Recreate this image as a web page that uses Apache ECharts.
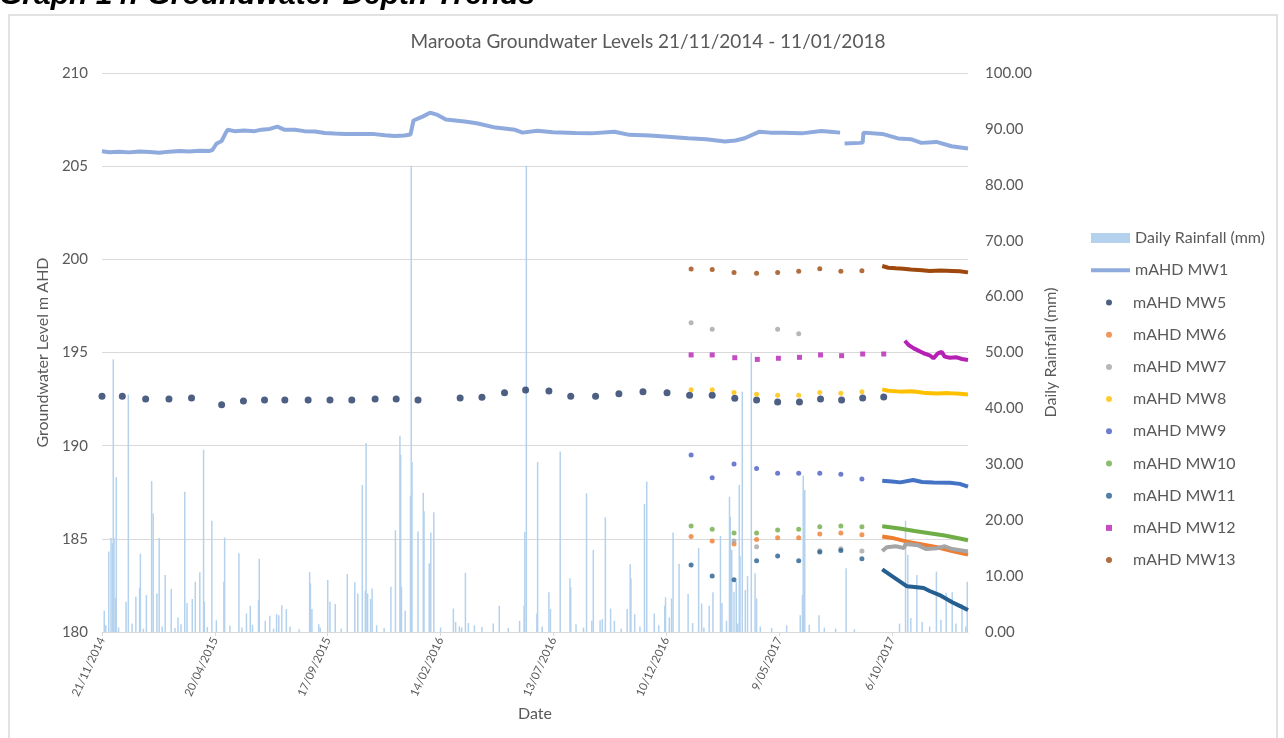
<!DOCTYPE html>
<html>
<head>
<meta charset="utf-8">
<script src="https://cdn.jsdelivr.net/npm/echarts@6.0.0/dist/echarts.min.js"></script>
<style>
html,body{margin:0;padding:0;background:#fff;}
#chart{width:1284px;height:738px;}
</style>
</head>
<body>
<div id="chart"></div>
<script>
// ---------- DATA (x = days since 21/11/2014) ----------
const xTickLabels = ['21/11/2014','20/04/2015','17/09/2015','14/02/2016','13/07/2016','10/12/2016','9/05/2017','6/10/2017'];

const rainfall = [[3,3.8],[5,1.2],[9,14.4],[12,16.8],[14,15.9],[15,48.8],[16,16.8],[18,6.1],[19,27.7],[22,0.8],[32,5.4],[35,42.5],[40,1.5],[45,6.3],[50,7.9],[51,14.0],[55,0.6],[59,6.6],[66,27.0],[68,21.2],[73,6.9],[76,16.8],[80,1.0],[84,10.2],[92,7.7],[97,0.7],[101,2.6],[105,1.4],[110,25.1],[113,5.2],[120,5.9],[124,9.0],[130,10.7],[135,32.6],[136,5.4],[140,0.9],[146,19.9],[152,2.1],[162,9.0],[163,16.9],[170,1.1],[182,14.1],[186,0.8],[192,3.3],[197,4.7],[200,1.3],[208,5.7],[209,13.1],[217,2.0],[223,2.9],[228,0.6],[232,3.2],[235,3.0],[239,4.8],[245,4.1],[250,1.0],[262,0.5],[276,10.7],[277,8.7],[279,4.1],[288,1.4],[290,0.8],[300,9.3],[303,5.4],[310,5.0],[318,0.6],[326,10.4],[336,8.9],[340,6.9],[346,26.3],[350,7.4],[351,33.8],[353,6.9],[357,5.9],[359,7.8],[365,1.2],[375,0.7],[384,8.1],[390,18.2],[396,35.1],[397,31.7],[398,8.1],[403,3.8],[410,24.4],[411,83.4],[412,30.4],[420,18.0],[427,24.9],[428,21.6],[435,12.3],[437,17.8],[441,21.4],[450,0.8],[467,4.2],[470,1.8],[475,1.0],[478,0.8],[483,10.6],[487,1.6],[495,1.2],[505,0.9],[520,1.5],[528,4.7],[540,0.7],[555,2.0],[561,4.7],[562,17.9],[564,83.4],[578,3.3],[579,30.4],[585,1.0],[594,7.1],[596,4.1],[609,32.3],[622,9.6],[623,8.0],[630,1.4],[640,0.8],[644,24.8],[651,2.0],[653,14.7],[662,2.1],[665,2.3],[669,20.5],[676,4.2],[681,2.0],[690,0.6],[698,4.1],[702,12.1],[703,9.6],[708,3.2],[715,1.0],[721,22.9],[724,26.9],[734,3.3],[740,1.2],[748,4.7],[749,6.2],[754,2.6],[757,6.0],[759,17.8],[767,12.2],[779,6.8],[785,1.6],[793,15.0],[797,5.1],[800,0.8],[807,4.7],[812,7.1],[822,17.2],[824,5.2],[830,2.0],[834,24.2],[835,20.6],[837,14.7],[840,7.2],[843,9.0],[845,1.5],[847,26.3],[848,13.6],[851,43.0],[855,7.5],[858,10.0],[863,50.0],[868,10.5],[870,6.0],[875,1.0],[890,0.7],[910,1.2],[928,3.0],[931,6.6],[932,28.0],[934,25.4],[940,1.3],[953,3.0],[960,0.8],[975,0.6],[989,11.4],[1000,0.5],[1060,1.5],[1068,19.9],[1071,13.8],[1075,2.5],[1083,10.2],[1090,1.8],[1100,1.0],[1109,10.8],[1115,2.2],[1122,7.0],[1130,7.1],[1135,1.5],[1143,5.0],[1148,1.0],[1150,9.0]];

const mw1 = [[0,205.80],[10,205.75],[23,205.78],[36,205.74],[50,205.79],[63,205.76],[76,205.72],[90,205.78],[103,205.82],[116,205.79],[130,205.83],[143,205.82],[147,205.88],[152,206.20],[159,206.35],[164,206.75],[167,206.95],[176,206.88],[189,206.92],[203,206.88],[212,206.96],[223,207.00],[233,207.12],[243,206.95],[256,206.95],[269,206.88],[283,206.86],[296,206.78],[309,206.75],[323,206.72],[343,206.73],[362,206.72],[376,206.66],[389,206.62],[402,206.65],[410,206.70],[414,207.45],[426,207.66],[436,207.87],[446,207.75],[457,207.50],[482,207.40],[498,207.30],[523,207.07],[549,206.95],[559,206.80],[579,206.90],[599,206.82],[629,206.78],[650,206.76],[681,206.85],[701,206.68],[728,206.65],[752,206.58],[779,206.50],[803,206.44],[828,206.32],[842,206.38],[854,206.50],[874,206.85],[888,206.80],[905,206.80],[930,206.76],[956,206.89],[968,206.85],[981,206.80],[984,'-'],[987,206.22],[1007,206.25],[1011,206.27],[1012,206.80],[1037,206.73],[1058,206.49],[1075,206.45],[1089,206.25],[1109,206.30],[1129,206.07],[1151,205.95]];

const mw5Days = [0,27,58,89,119,159,188,216,243,274,303,332,363,391,420,476,505,535,563,594,623,656,687,719,751,781,811,841,870,898,927,955,983,1011,1039];
const mw5Vals = [192.65,192.65,192.50,192.50,192.56,192.20,192.40,192.45,192.45,192.45,192.45,192.45,192.50,192.50,192.45,192.56,192.60,192.84,192.99,192.93,192.65,192.65,192.79,192.90,192.84,192.70,192.70,192.54,192.45,192.34,192.34,192.50,192.45,192.56,192.61];

const surveyDays = [783,811,840,870,898,926,954,982,1010];
const mw6Dots  = [185.12,184.88,184.72,184.97,185.06,185.06,185.26,185.31,185.22];
const mw7Dots  = [196.60,196.25,184.88,184.58,196.25,196.00,184.36,184.47,184.35];
const mw8Dots  = [193.00,193.00,192.86,192.76,192.70,192.70,192.86,192.81,192.90];
const mw9Dots  = [189.50,188.28,189.02,188.77,188.52,188.52,188.52,188.46,188.21];
const mw10Dots = [185.69,185.51,185.31,185.31,185.47,185.51,185.65,185.69,185.65];
const mw11Dots = [183.60,183.00,182.81,183.83,184.08,183.83,184.29,184.38,183.93];
const mw12Days = [783,811,841,871,899,927,955,983,1011,1039];
const mw12Dots = [194.87,194.87,194.72,194.63,194.69,194.74,194.87,194.83,194.92,194.92];
const mw13Dots = [199.48,199.45,199.30,199.25,199.30,199.36,199.50,199.36,199.39];

// logger records (continuous)
const mw6Log  = [[1037,185.12],[1050,185.05],[1070,184.85],[1090,184.70],[1110,184.55],[1130,184.35],[1151,184.15]];
const mw7Log  = [[1037,184.35],[1043,184.55],[1055,184.60],[1066,184.50],[1068,184.72],[1085,184.65],[1095,184.45],[1110,184.50],[1120,184.60],[1130,184.45],[1151,184.32]];
const mw8Log  = [[1037,193.02],[1045,192.95],[1061,192.90],[1075,192.92],[1085,192.88],[1095,192.82],[1110,192.80],[1125,192.82],[1140,192.78],[1151,192.74]];
const mw9Log  = [[1037,188.12],[1050,188.08],[1061,188.03],[1078,188.16],[1090,188.05],[1105,188.02],[1127,188.01],[1140,187.95],[1151,187.80]];
const mw10Log = [[1037,185.68],[1060,185.55],[1080,185.42],[1100,185.30],[1120,185.18],[1140,185.02],[1151,184.92]];
const mw11Log = [[1037,183.36],[1050,183.00],[1070,182.45],[1080,182.42],[1092,182.36],[1100,182.20],[1115,181.95],[1130,181.60],[1140,181.40],[1151,181.18]];
const mw12Log = [[1067,195.63],[1072,195.40],[1079,195.22],[1085,195.10],[1092,194.96],[1100,194.85],[1105,194.69],[1111,194.95],[1116,195.04],[1120,194.78],[1127,194.72],[1135,194.75],[1143,194.65],[1151,194.60]];
const mw13Log = [[1037,199.64],[1045,199.55],[1055,199.52],[1065,199.50],[1075,199.45],[1090,199.42],[1100,199.38],[1115,199.40],[1130,199.38],[1140,199.36],[1151,199.30]];

// ---------- CHART ----------
const FONT = 'Lato';
const TXT = '#595959';
const MW1_COLOR = '#8FAADC';
const zip = (d, v) => d.map((x, i) => [x, v[i]]);

function dots(name, days, vals, color, size, symbol) {
  return { name, type: 'scatter', xAxisIndex: 0, yAxisIndex: 0, symbol: symbol || 'circle',
    symbolSize: size, itemStyle: { color }, data: zip(days, vals), z: 4, silent: true };
}
function logger(name, data, color) {
  return { name, type: 'line', xAxisIndex: 0, yAxisIndex: 0, showSymbol: false, symbol: 'none',
    lineStyle: { color, width: 4 }, itemStyle: { color }, data, z: 3, silent: true };
}

const chart = echarts.init(document.getElementById('chart'), null, { renderer: 'canvas' });
chart.setOption({
  animation: false,
  backgroundColor: '#fff',
  textStyle: { fontFamily: FONT },
  graphic: [
    { type: 'rect', shape: { x: 9, y: 15, width: 1268, height: 740 }, style: { fill: 'none', stroke: '#D9D9D9', lineWidth: 1.5 }, silent: true },
    { type: 'text', x: -1, y: 11, style: { text: 'Graph 14: Groundwater Depth Trends', font: 'italic bold 30px "Liberation Sans"', fill: '#000', verticalAlign: 'bottom' }, silent: true }
  ],
  title: {
    text: 'Maroota Groundwater Levels 21/11/2014 - 11/01/2018',
    left: 643, top: 27, textAlign: 'center',
    textStyle: { fontFamily: FONT, fontSize: 19, fontWeight: 'normal', color: TXT }
  },
  legend: [
    {
      orient: 'vertical', left: 1089, top: 229, padding: 0, itemWidth: 39, itemHeight: 10, itemGap: 14.2,
      selectedMode: false,
      textStyle: { fontFamily: FONT, fontSize: 16, color: TXT, lineHeight: 18 },
      data: [
        { name: 'Daily Rainfall (mm)', icon: 'rect' },
        { name: 'mAHD MW1', itemStyle: { opacity: 0 }, lineStyle: { color: MW1_COLOR, width: 4, opacity: 1 } }
      ]
    },
    {
      orient: 'vertical', left: 1106, top: 293.5, padding: 0, itemWidth: 6, itemHeight: 6, itemGap: 14.2,
      selectedMode: false,
      textStyle: { fontFamily: FONT, fontSize: 16, color: TXT, lineHeight: 18, padding: [0, 0, 0, 16] },
      data: ['mAHD MW5','mAHD MW6','mAHD MW7','mAHD MW8','mAHD MW9','mAHD MW10','mAHD MW11','mAHD MW12','mAHD MW13']
    }
  ],
  grid: { left: 102, right: 316, top: 73, bottom: 106 },
  xAxis: {
    type: 'value', min: 0, max: 1151, interval: 150,
    name: 'Date', nameLocation: 'middle', nameGap: 72,
    nameTextStyle: { fontFamily: FONT, fontSize: 16, color: TXT },
    axisLine: { show: true, lineStyle: { color: '#D9D9D9', width: 1 } },
    axisTick: { show: true, length: 4, lineStyle: { color: '#D9D9D9' }, customValues: xTickLabels.map((_, i) => i * 150) },
    splitLine: { show: false },
    axisLabel: {
      rotate: 65, margin: 6, fontFamily: FONT, fontSize: 11.5, color: TXT,
      customValues: xTickLabels.map((_, i) => i * 150),
      formatter: v => (v % 150 === 0 && xTickLabels[v / 150]) ? xTickLabels[v / 150] : ''
    }
  },
  yAxis: [
    {
      type: 'value', min: 180, max: 210, interval: 5,
      name: 'Groundwater Level m AHD', nameLocation: 'middle', nameGap: 50, nameRotate: 90,
      nameTextStyle: { fontFamily: FONT, fontSize: 16, color: TXT },
      axisLine: { show: false }, axisTick: { show: false },
      splitLine: { show: true, lineStyle: { color: '#D9D9D9', width: 1 } },
      axisLabel: { fontFamily: FONT, fontSize: 15, color: TXT, margin: 14 }
    },
    {
      type: 'value', min: 0, max: 100, interval: 10, position: 'right',
      name: 'Daily Rainfall (mm)', nameLocation: 'middle', nameGap: 75, nameRotate: 90,
      nameTextStyle: { fontFamily: FONT, fontSize: 16, color: TXT },
      axisLine: { show: false }, axisTick: { show: false }, splitLine: { show: false },
      axisLabel: { fontFamily: FONT, fontSize: 15, color: TXT, margin: 17, formatter: v => v.toFixed(2) }
    }
  ],
  series: [
    { name: 'Daily Rainfall (mm)', type: 'bar', xAxisIndex: 0, yAxisIndex: 1, barWidth: 1.5,
      itemStyle: { color: '#B4D2EE' }, data: rainfall, z: 1, silent: true },
    { name: 'mAHD MW1', type: 'line', xAxisIndex: 0, yAxisIndex: 0, showSymbol: false, symbol: 'none',
      lineStyle: { color: MW1_COLOR, width: 4 }, itemStyle: { color: MW1_COLOR }, data: mw1, z: 3, silent: true },
    dots('mAHD MW5', mw5Days, mw5Vals, '#203864', 7),
    dots('mAHD MW6', surveyDays, mw6Dots, '#ED7D31', 5),
    dots('mAHD MW7', surveyDays, mw7Dots, '#A5A5A5', 5),
    dots('mAHD MW8', surveyDays, mw8Dots, '#FFC000', 5),
    dots('mAHD MW9', surveyDays, mw9Dots, '#4A5BC4', 5),
    dots('mAHD MW10', surveyDays, mw10Dots, '#70AD47', 5),
    dots('mAHD MW11', surveyDays, mw11Dots, '#255E91', 5),
    dots('mAHD MW12', mw12Days, mw12Dots, '#B521B5', 5, 'rect'),
    dots('mAHD MW13', surveyDays, mw13Dots, '#9E480E', 5),
    logger('MW6 logger', mw6Log, '#ED7D31'),
    logger('MW7 logger', mw7Log, '#A5A5A5'),
    logger('MW8 logger', mw8Log, '#FFC000'),
    logger('MW9 logger', mw9Log, '#4472C4'),
    logger('MW10 logger', mw10Log, '#70AD47'),
    logger('MW11 logger', mw11Log, '#255E91'),
    logger('MW12 logger', mw12Log, '#B521B5'),
    logger('MW13 logger', mw13Log, '#9E480E')
  ]
});
</script>
</body>
</html>
